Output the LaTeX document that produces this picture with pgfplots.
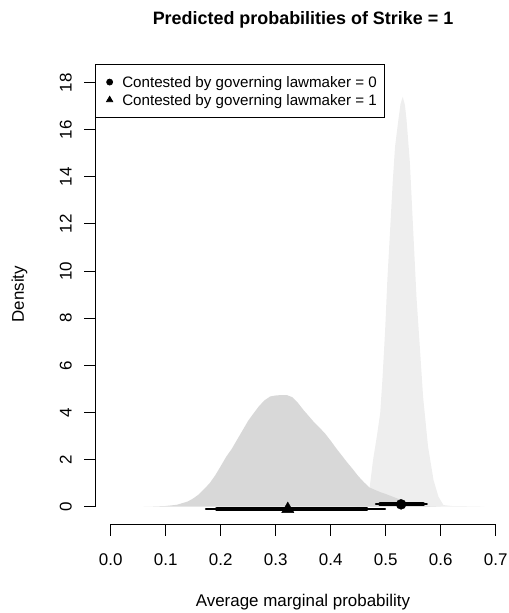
\documentclass[border=0pt]{standalone}
\usepackage{fontspec}
\setmainfont{Liberation Sans}
\usepackage{pgfplots}
\pgfplotsset{compat=1.18}
\definecolor{densA}{RGB}{216,216,216}
\definecolor{densB}{RGB}{238,238,238}
\begin{document}
\begin{tikzpicture}
\begin{axis}[
  at={(95.3bp,88.7bp)}, anchor=south west,
  scale only axis, width=415.4bp, height=460.3bp,
  xmin=-0.028, xmax=0.7273, ymin=-0.747, ymax=18.79,
  clip=false,
  separate axis lines,
  axis x line*=bottom, axis y line*=left,
  x axis line style={-, black, line width=0.75bp, shorten <=15.4bp, shorten >=15.0bp},
  y axis line style={draw=none},
  tick align=outside, major tick length=11.4bp,
  xtick style={black, line width=0.75bp},
  ytick style={draw=none},
  xtick={0,0.1,0.2,0.3,0.4,0.5,0.6,0.7},
  xticklabels={0.0,0.1,0.2,0.3,0.4,0.5,0.6,0.7},
  ytick={0,2,4,6,8,10,12,14,16,18},
  yticklabels={0,2,4,6,8,10,12,14,16,18},
  tick label style={font=\fontsize{17}{19}\selectfont},
  xticklabel style={anchor=base, yshift=-29.7bp},
  yticklabel style={rotate=90, anchor=base, yshift=12.2bp},
  title={Predicted probabilities of Strike = 1},
  title style={at={(0.5,1)}, anchor=base, yshift=34bp, font=\fontsize{18}{20}\selectfont\bfseries},
  xlabel={Average marginal probability},
  xlabel style={at={(0.5,0)}, anchor=base, yshift=-82.4bp, font=\fontsize{17}{19}\selectfont},
  ylabel={Density},
  ylabel style={at={(0,0.5)}, anchor=base, yshift=71.3bp, font=\fontsize{17}{19}\selectfont},
  legend style={at={(0,1)}, anchor=north west, draw=black, line width=0.75bp, fill=white,
    font=\fontsize{15.2}{17}\selectfont, inner xsep=7.5bp, inner ysep=12.2bp, row sep=6.8bp,
    column sep=9.5bp,
    nodes={inner sep=0pt, text height=11bp, text depth=0bp}},
  legend cell align=left,
  legend image code/.code={\path (-6.1bp,0bp); \path[#1] plot coordinates {(0bp,0bp)};},
]
% group 0 density (light)
\addplot[draw=none, fill=densB, forget plot] coordinates {
(0.44,0) (0.46,0.05) (0.465,0.3) (0.471,0.85) (0.477,1.98) (0.484,3.0) (0.490,3.97)
(0.494,5.38) (0.499,7.5) (0.503,9.62) (0.508,11.74) (0.513,13.87) (0.517,15.28)
(0.523,16.41) (0.527,17.1) (0.531,17.4) (0.535,17.05) (0.538,16.4) (0.544,14.6)
(0.550,11.74) (0.556,8.9) (0.562,6.8) (0.568,4.67) (0.577,2.55) (0.587,1.13)
(0.596,0.42) (0.605,0.07) (0.62,0.03) (0.67,0.01) (0.68,0)
} \closedcycle;
% group 1 density (dark)
\addplot[draw=none, fill=densA, forget plot] coordinates {
(0.06,0) (0.08,0.01) (0.10,0.03) (0.12,0.08) (0.14,0.22) (0.15,0.35) (0.16,0.52)
(0.17,0.75) (0.18,1.0) (0.19,1.33) (0.20,1.72) (0.21,2.12) (0.22,2.45) (0.23,2.85)
(0.24,3.25) (0.25,3.65) (0.26,3.97) (0.27,4.28) (0.28,4.52) (0.29,4.68) (0.30,4.72)
(0.31,4.74) (0.32,4.74) (0.33,4.65) (0.34,4.42) (0.35,4.12) (0.36,3.85) (0.37,3.58)
(0.38,3.35) (0.39,3.1) (0.40,2.8) (0.41,2.48) (0.42,2.18) (0.43,1.88) (0.44,1.6)
(0.45,1.3) (0.46,1.05) (0.47,0.82) (0.48,0.72) (0.49,0.62) (0.50,0.54) (0.51,0.45)
(0.52,0.36) (0.53,0.27) (0.54,0.17) (0.55,0.10) (0.56,0.05) (0.58,0.02) (0.60,0)
} \closedcycle;
% intervals group 0
\addplot[black, line width=2bp, line cap=round, forget plot] coordinates {(0.482,0.1) (0.575,0.1)};
\addplot[black, line width=4bp, line cap=round, forget plot] coordinates {(0.490,0.1) (0.568,0.1)};
% intervals group 1
\addplot[black, line width=2bp, line cap=round, forget plot] coordinates {(0.173,-0.1) (0.499,-0.1)};
\addplot[black, line width=4bp, line cap=round, forget plot] coordinates {(0.193,-0.1) (0.465,-0.1)};
% point estimates
\addplot[only marks, mark=*, mark size=5bp, black, forget plot] coordinates {(0.528,0.1)};
\addplot[only marks, mark=triangle*, mark size=7bp, black, forget plot] coordinates {(0.322,-0.1)};
% legend entries
\addlegendimage{only marks, mark=*, mark size=3bp, black}
\addlegendentry{Contested by governing lawmaker = 0}
\addlegendimage{only marks, mark=triangle*, mark size=3.6bp, black}
\addlegendentry{Contested by governing lawmaker = 1}
\end{axis}
% R-style y axis line (0 to 18) and outward ticks; axis box starts at (95.3bp,88.7bp)
\draw[black, line width=1bp] (95.5bp,106.3bp) -- (95.5bp,530.4bp);
\foreach \k in {0,...,9} {
  \draw[black, line width=1bp] (95.5bp,106.3bp+\k*47.122bp) -- (84.1bp,106.3bp+\k*47.122bp);
}
\pgfresetboundingbox
\path (0bp,0bp) rectangle (509bp,613bp);
\end{tikzpicture}
\end{document}
